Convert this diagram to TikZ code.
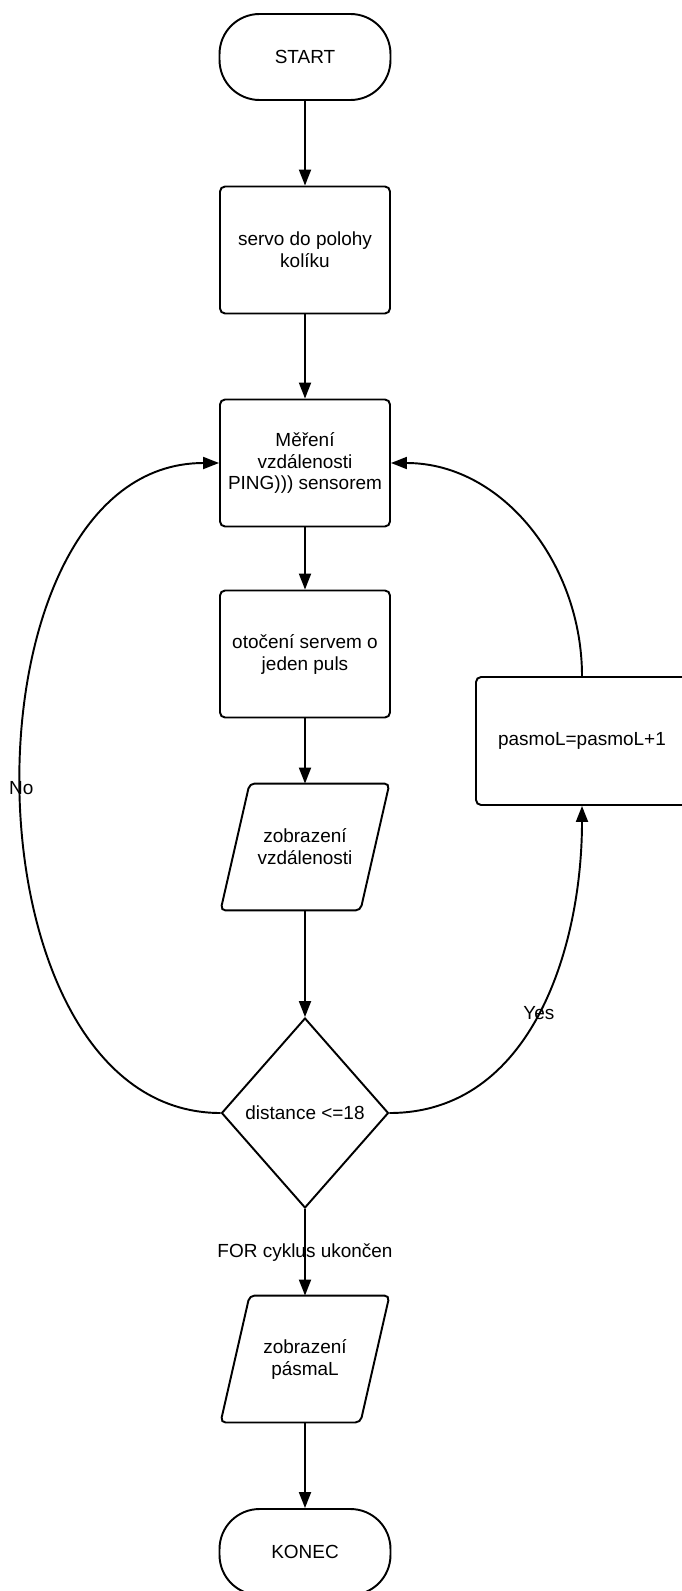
\documentclass[tikz,border=0pt]{standalone}
\usepackage{fontspec}
\setmainfont{Liberation Sans}
\usetikzlibrary{shapes.geometric,arrows.meta}

\begin{document}
\begin{tikzpicture}[x=0.02cm, y=0.02cm, line width=1.1pt,
  every node/.append style={font=\fontsize{10.8}{12.5}\selectfont},
  term/.style={draw, rectangle, rounded corners=0.8cm, minimum width=3.42cm, minimum height=1.72cm},
  proc/.style={draw, rectangle, rounded corners=0.1cm, minimum width=3.4cm, minimum height=2.54cm, align=center},
  io/.style={rectangle, minimum width=2.76cm, minimum height=2.5cm, align=center},
  dec/.style={draw, diamond, minimum width=3.34cm, minimum height=3.8cm, inner sep=0pt},
  arr/.style={-{Triangle[length=0.32cm,width=0.24cm]}}]
\useasboundingbox (0,0) rectangle (682,-1591);

\node[term] (start) at (305,-57) {START};
\node[proc] (servo) at (305,-250) {servo do polohy\\kolíku};
\node[proc] (mereni) at (305,-463) {Měření\\vzdálenosti\\PING))) sensorem};
\node[proc] (otoceni) at (305,-654) {otočení servem o\\jeden puls};
\node[io] (zobraz) at (305,-847) {zobrazení\\vzdálenosti};
\node[dec] (podminka) at (305,-1113) {distance <=18};
\node[proc, minimum width=4.24cm, minimum height=2.56cm] (pasmo) at (582,-741) {pasmoL=pasmoL+1};
\node[io] (vypis) at (305,-1359) {zobrazení\\pásmaL};
\node[term] (konec) at (305,-1552) {KONEC};

% rovnobezniky
\foreach \n in {zobraz,vypis}
  \draw[rounded corners=0.1cm] ([xshift=0.29cm]\n.north west) -- ([xshift=0.29cm]\n.north east)
    -- ([xshift=-0.29cm]\n.south east) -- ([xshift=-0.29cm]\n.south west) -- cycle;

\draw[arr] (start) -- (servo);
\draw[arr] (servo) -- (mereni);
\draw[arr] (mereni) -- (otoceni);
\draw[arr] (otoceni) -- (zobraz);
\draw[arr] (zobraz) -- (podminka);
\draw[arr] (podminka) -- node {FOR cyklus ukončen} (vypis);
\draw[arr] (vypis) -- (konec);

% smycka
\draw[arr] (podminka.west) to[out=180, in=180, looseness=1.04] node[pos=0.5] {No} (mereni.west);
\draw[arr] (podminka.east) to[out=0, in=-90] node[pos=0.5] {Yes} (pasmo.south);
\draw[arr] (pasmo.north) to[out=90, in=0] (mereni.east);
\end{tikzpicture}
\end{document}
